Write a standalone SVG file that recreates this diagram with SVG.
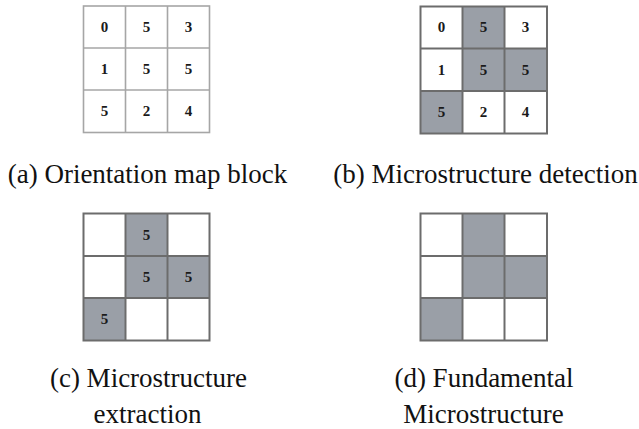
<svg xmlns="http://www.w3.org/2000/svg" width="639" height="429" viewBox="0 0 639 429">
  <style>
    .cell { fill: #ffffff; }
    .on { fill: #9a9fa7; }
    .gridA { fill: none; stroke: #a6a6a6; stroke-width: 1.6; }
    .gridB { fill: none; stroke: #6c6c6c; stroke-width: 2; }
    .num { font-weight: bold; font-size: 15px; fill: #1a1a1a; text-anchor: middle; }
    .cap { font-size: 27px; fill: #111111; text-anchor: middle; }
  </style>

  <g font-family="Liberation Serif, Tinos, Times New Roman, DejaVu Serif, serif">
  <!-- (a) orientation map block -->
  <g id="block-a">
    <rect class="cell" x="83.5" y="6" width="126" height="126.5"/>
    <g class="gridA">
      <rect x="83.5" y="6" width="126" height="126.5"/>
      <line x1="125.5" y1="6" x2="125.5" y2="132.5"/>
      <line x1="167.5" y1="6" x2="167.5" y2="132.5"/>
      <line x1="83.5" y1="48" x2="209.5" y2="48"/>
      <line x1="83.5" y1="90" x2="209.5" y2="90"/>
    </g>
    <text class="num" x="104.5" y="31.5">0</text>
    <text class="num" x="146.5" y="31.5">5</text>
    <text class="num" x="188.5" y="31.5">3</text>
    <text class="num" x="104.5" y="73.5">1</text>
    <text class="num" x="146.5" y="73.5">5</text>
    <text class="num" x="188.5" y="73.5">5</text>
    <text class="num" x="104.5" y="115.5">5</text>
    <text class="num" x="146.5" y="115.5">2</text>
    <text class="num" x="188.5" y="115.5">4</text>
    <text class="cap" x="147.5" y="182.5">(a) Orientation map block</text>
  </g>

  <!-- (b) microstructure detection -->
  <g id="block-b">
    <rect class="cell" x="420.5" y="6.5" width="126.5" height="127"/>
    <rect class="on" x="462.5" y="6.5" width="42" height="84.5"/>
    <rect class="on" x="504.5" y="48.5" width="42.5" height="42.5"/>
    <rect class="on" x="420.5" y="91" width="42" height="42.5"/>
    <g class="gridB">
      <rect x="420.5" y="6.5" width="126.5" height="127"/>
      <line x1="462.5" y1="6.5" x2="462.5" y2="133.5"/>
      <line x1="504.5" y1="6.5" x2="504.5" y2="133.5"/>
      <line x1="420.5" y1="48.5" x2="547" y2="48.5"/>
      <line x1="420.5" y1="91" x2="547" y2="91"/>
    </g>
    <text class="num" x="441.5" y="32">0</text>
    <text class="num" x="483.5" y="32">5</text>
    <text class="num" x="525.5" y="32">3</text>
    <text class="num" x="441.5" y="74.5">1</text>
    <text class="num" x="483.5" y="74.5">5</text>
    <text class="num" x="525.5" y="74.5">5</text>
    <text class="num" x="441.5" y="117">5</text>
    <text class="num" x="483.5" y="117">2</text>
    <text class="num" x="525.5" y="117">4</text>
    <text class="cap" x="485.5" y="182.5">(b) Microstructure detection</text>
  </g>

  <!-- (c) microstructure extraction -->
  <g id="block-c">
    <rect class="cell" x="83.5" y="213.5" width="126" height="127"/>
    <rect class="on" x="125.5" y="213.5" width="42" height="84.5"/>
    <rect class="on" x="167.5" y="256" width="42" height="42"/>
    <rect class="on" x="83.5" y="298" width="42" height="42.5"/>
    <g class="gridB">
      <rect x="83.5" y="213.5" width="126" height="127"/>
      <line x1="125.5" y1="213.5" x2="125.5" y2="340.5"/>
      <line x1="167.5" y1="213.5" x2="167.5" y2="340.5"/>
      <line x1="83.5" y1="256" x2="209.5" y2="256"/>
      <line x1="83.5" y1="298" x2="209.5" y2="298"/>
    </g>
    <text class="num" x="146.5" y="239.5">5</text>
    <text class="num" x="146.5" y="281.5">5</text>
    <text class="num" x="188.5" y="281.5">5</text>
    <text class="num" x="104.5" y="324">5</text>
    <text class="cap" x="148.5" y="386.5">(c) Microstructure</text>
    <text class="cap" x="147.5" y="422.5">extraction</text>
  </g>

  <!-- (d) fundamental microstructure -->
  <g id="block-d">
    <rect class="cell" x="420.5" y="213.5" width="126.5" height="127"/>
    <rect class="on" x="462.5" y="213.5" width="42" height="84.5"/>
    <rect class="on" x="504.5" y="256" width="42.5" height="42"/>
    <rect class="on" x="420.5" y="298" width="42" height="42.5"/>
    <g class="gridB">
      <rect x="420.5" y="213.5" width="126.5" height="127"/>
      <line x1="462.5" y1="213.5" x2="462.5" y2="340.5"/>
      <line x1="504.5" y1="213.5" x2="504.5" y2="340.5"/>
      <line x1="420.5" y1="256" x2="547" y2="256"/>
      <line x1="420.5" y1="298" x2="547" y2="298"/>
    </g>
    <text class="cap" x="484" y="386.5">(d) Fundamental</text>
    <text class="cap" x="483.5" y="422.5">Microstructure</text>
  </g>
  </g>

  <g id="connectors"/>
</svg>
